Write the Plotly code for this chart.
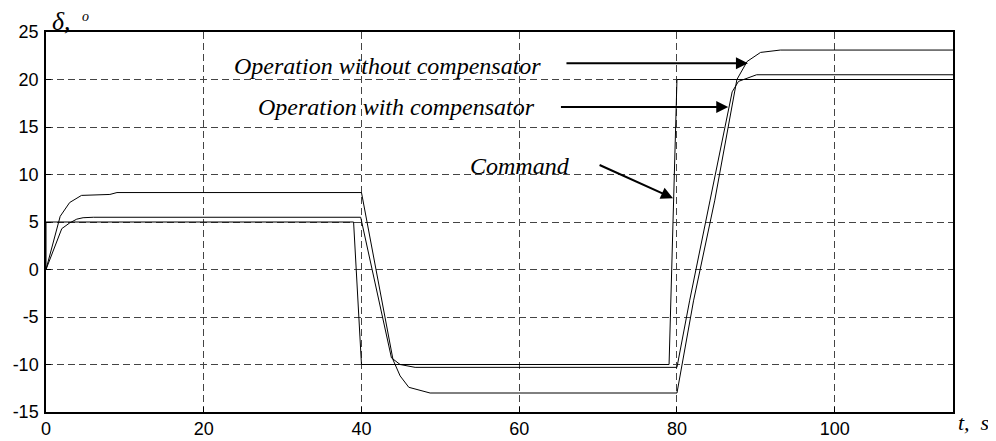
import plotly.graph_objects as go

# Command signal
t_cmd = [0, 0, 39, 40, 79, 80, 115]
y_cmd = [0, 5, 5, -10, -10, 20, 20]

# Operation with compensator
t_with = [0, 2.0, 3.0, 3.9, 4.7, 6, 39.9, 43.8, 44.9, 46.8, 80, 81.6, 84.2, 87.0, 87.8, 90.1, 115]
y_with = [0, 4.3, 4.9, 5.3, 5.45, 5.5, 5.5, -9.3, -10.0, -10.3, -10.3, -3.3, 7.3, 18.7, 19.8, 20.5, 20.5]

# Operation without compensator
t_without = [0, 1.8, 3.0, 4.5, 8.1, 9.0, 40, 44.0, 44.9, 46.0, 48.7, 80, 82.1, 84.8, 87.6, 88.9, 90.6, 93.1, 115]
y_without = [0, 5.6, 7.05, 7.8, 7.9, 8.1, 8.1, -9.5, -11.2, -12.4, -13.0, -13.0, -3.3, 7.3, 20.0, 21.9, 22.85, 23.1, 23.1]

x_ticks = [0, 20, 40, 60, 80, 100]
x_labels = ["0", "20", "40", "60", "80", "100"]
y_ticks = [-15, -10, -5, 0, 5, 10, 15, 20, 25]
y_labels = ["-15", "-10", "-5", "0", "5", "10", "15", "20", "25"]

fig = go.Figure()
for tx, ty in [(t_cmd, y_cmd), (t_with, y_with), (t_without, y_without)]:
    fig.add_trace(go.Scatter(x=tx, y=ty, mode="lines",
                             line=dict(color="black", width=1), showlegend=False))

serif = dict(family="Liberation Serif", size=24, color="black")

# Text labels
fig.add_annotation(x=43.3, y=21.4, text="<i>Operation without compensator</i>",
                   showarrow=False, font=serif, xanchor="center", yanchor="middle")
fig.add_annotation(x=44.5, y=17.1, text="<i>Operation with compensator</i>",
                   showarrow=False, font=serif, xanchor="center", yanchor="middle")
fig.add_annotation(x=60.1, y=10.9, text="<i>Command</i>",
                   showarrow=False, font=serif, xanchor="center", yanchor="middle")

# Arrows
arrow_kw = dict(text="", showarrow=True, axref="x", ayref="y", arrowhead=2,
                arrowsize=1.2, arrowwidth=2, arrowcolor="black")
fig.add_annotation(x=89.0, y=21.7, ax=65.8, ay=21.7, **arrow_kw)
fig.add_annotation(x=86.5, y=17.1, ax=65.1, ay=17.1, **arrow_kw)
fig.add_annotation(x=79.5, y=7.5, ax=70.0, ay=11.07, **arrow_kw)

# Axis labels
fig.add_annotation(xref="paper", yref="paper", x=0.004, y=1.028,
                   text="<i>δ,</i>", showarrow=False,
                   font=dict(family="Liberation Serif", size=26, color="black"),
                   xanchor="left", yanchor="middle")
fig.add_annotation(xref="paper", yref="paper", x=0.037, y=1.042,
                   text="<i>o</i>", showarrow=False,
                   font=dict(family="Liberation Serif", size=14, color="black"),
                   xanchor="left", yanchor="middle")
fig.add_annotation(xref="paper", yref="paper", x=1.003, y=-0.028,
                   text="<i>t,  s</i>", showarrow=False,
                   font=dict(family="Liberation Serif", size=22, color="black"),
                   xanchor="left", yanchor="middle")

axis_common = dict(showline=True, linecolor="black", linewidth=1.5, mirror=True,
                   showgrid=True, gridcolor="#444444", gridwidth=1, griddash="7px,4px",
                   ticks="inside", ticklen=5, tickcolor="black", zeroline=False,
                   automargin=False,
                   tickfont=dict(family="Liberation Sans", size=18, color="black"))

fig.update_xaxes(range=[0, 115], tickvals=x_ticks, ticktext=x_labels, **axis_common)
fig.update_yaxes(range=[-15, 25], tickvals=y_ticks, ticktext=y_labels,
                 ticklabelstandoff=2, **axis_common)

# page body adds an 8px offset, so the figure is sized to fit the window
fig.update_layout(width=988, height=433,
                  margin=dict(l=38, r=43, t=24, b=29, autoexpand=False),
                  plot_bgcolor="white", paper_bgcolor="white")

fig.write_html("out.html")
